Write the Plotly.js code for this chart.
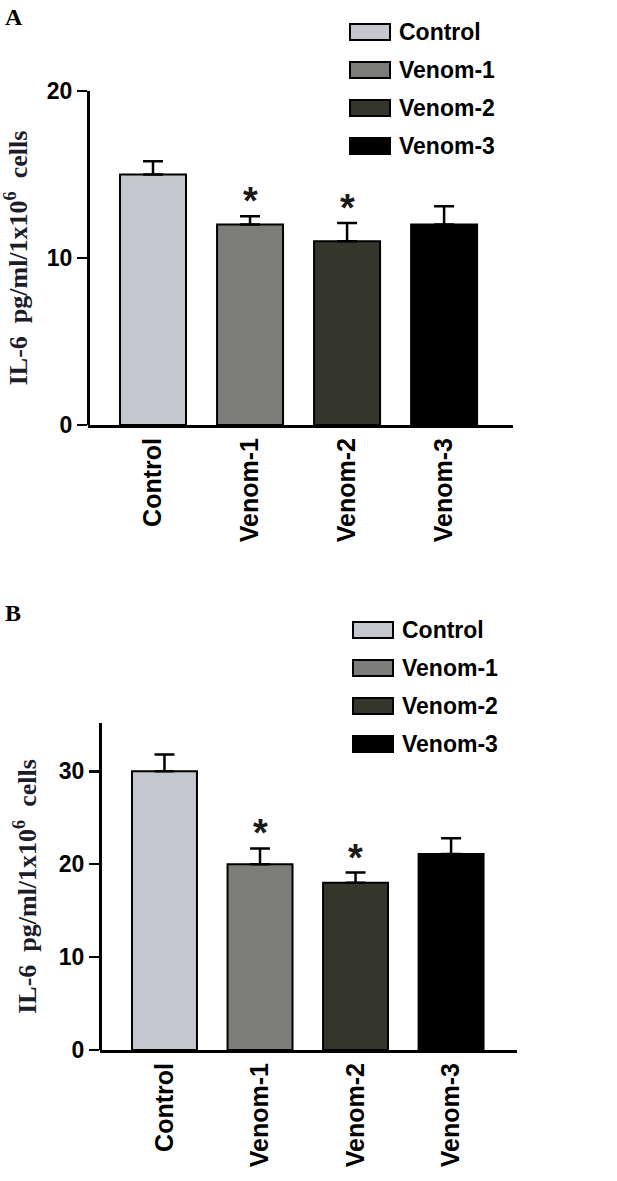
<!DOCTYPE html>
<html>
<head>
<meta charset="utf-8">
<script src="https://cdn.plot.ly/plotly-3.0.1.min.js"></script>
<style>
  html, body { margin: 0; padding: 0; background: #fff; }
  #grafico { width: 617px; height: 1181px; }
</style>
</head>
<body>
<div id="grafico"></div>
<script>
// datos (IL-6 pg/ml/1x10^6 cells)
var categorias = ["Control", "Venom-1", "Venom-2", "Venom-3"];
var mediaA = [15.0, 12.0, 11.0, 12.0];
var errorA = [0.8, 0.5, 1.1, 1.1];
var mediaB = [30.0, 20.0, 18.0, 21.1];
var errorB = [1.8, 1.7, 1.1, 1.7];
var signifA = ["", "*", "*", ""];
var signifB = ["", "*", "*", ""];
var ticksA = [0, 10, 20];
var ticksB = [0, 10, 20, 30];
var colores = ["#c5c7cf", "#7c7d78", "#35362b", "#000000"];

var W = 617, H = 1181;
// pixeles de la pagina -> coordenadas paper
function px(x) { return x / W; }
function py(y) { return 1 - y / H; }

var fuenteSans = "Liberation Sans, Arial, sans-serif";
var fuenteSerif = "Liberation Serif, Times New Roman, serif";

function barras(media, error, ejeX, ejeY) {
  return {
    type: "bar",
    x: categorias,
    y: media,
    xaxis: ejeX,
    yaxis: ejeY,
    marker: { color: colores, line: { color: "#000", width: 2 } },
    error_y: {
      type: "data", symmetric: false,
      array: error, arrayminus: error.map(function () { return 0; }),
      color: "#000", thickness: 2.5, width: 10
    },
    showlegend: false,
    hoverinfo: "x+y"
  };
}

var data = [
  barras(mediaA, errorA, "x", "y"),
  barras(mediaB, errorB, "x2", "y2")
];

var tituloY = "IL-6\u2002pg/ml/1x10<sup>6</sup>\u2002cells";

function ejeY(dominio, rango, ticks) {
  return {
    domain: dominio, range: rango, anchor: "free", position: 0,
    tickvals: ticks, ticks: "outside", ticklen: 10, tickwidth: 2.5, tickcolor: "#000",
    showline: true, linewidth: 3, linecolor: "#000",
    showgrid: false, zeroline: false,
    tickfont: { family: fuenteSans, size: 23, color: "#000", weight: "bold" },
    title: { text: tituloY, font: { family: fuenteSerif, size: 26, color: "#1c1c2a", weight: "bold" } }
  };
}

function ejeX(dominio, rango, anclaY) {
  return {
    domain: dominio, range: rango, anchor: anclaY,
    showline: true, linewidth: 3, linecolor: "#000",
    ticks: "", showgrid: false, zeroline: false, tickangle: -90,
    tickfont: { family: fuenteSans, size: 25, color: "#000", weight: "bold" }
  };
}

var layout = {
  width: W, height: H, autosize: false,
  margin: { l: 0, r: 0, t: 0, b: 0 },
  paper_bgcolor: "#fff", plot_bgcolor: "#fff",
  bargap: 0.32,
  xaxis: ejeX([px(88), px(513)], [-0.67, 3.71], "y"),
  yaxis: ejeY([py(425), py(91)], [0, 20], ticksA),
  xaxis2: ejeX([px(100), px(517)], [-0.675, 3.69], "y2"),
  yaxis2: ejeY([py(1050), py(723)], [0, 35.2], ticksB),
  shapes: [],
  annotations: []
};
layout.yaxis.position = px(88);
layout.yaxis2.position = px(100);

// etiquetas de panel
[["A", 17], ["B", 613]].forEach(function (p) {
  layout.annotations.push({
    xref: "paper", yref: "paper", x: px(3), y: py(p[1]), xanchor: "left", yanchor: "middle",
    text: p[0], showarrow: false,
    font: { family: fuenteSerif, size: 24, color: "#000", weight: "bold" }
  });
});

// asteriscos de significancia
function asteriscos(media, error, signif, xr, yr) {
  categorias.forEach(function (c, i) {
    if (!signif[i]) return;
    layout.annotations.push({
      xref: xr, yref: yr, x: c, y: media[i] + error[i],
      xanchor: "center", yanchor: "bottom", yshift: -8,
      text: signif[i], showarrow: false,
      font: { family: fuenteSans, size: 38, color: "#1a1a1a", weight: "bold" }
    });
  });
}
asteriscos(mediaA, errorA, signifA, "x", "y");
asteriscos(mediaB, errorB, signifB, "x2", "y2");

// leyendas (cajas anchas como en la figura)
function leyenda(x0, y0) {
  categorias.forEach(function (c, i) {
    var yc = y0 + i * 38;
    layout.shapes.push({
      type: "rect", xref: "paper", yref: "paper",
      x0: px(x0), x1: px(x0 + 40), y0: py(yc - 8), y1: py(yc + 8),
      fillcolor: colores[i], line: { color: "#000", width: 2 }
    });
    layout.annotations.push({
      xref: "paper", yref: "paper", x: px(x0 + 47), y: py(yc),
      xanchor: "left", yanchor: "middle", text: c, showarrow: false,
      font: { family: fuenteSans, size: 23, color: "#000", weight: "bold" }
    });
  });
}
leyenda(350, 32);
leyenda(353, 630);

Plotly.newPlot("grafico", data, layout, { displayModeBar: false, staticPlot: true });
</script>
</body>
</html>
